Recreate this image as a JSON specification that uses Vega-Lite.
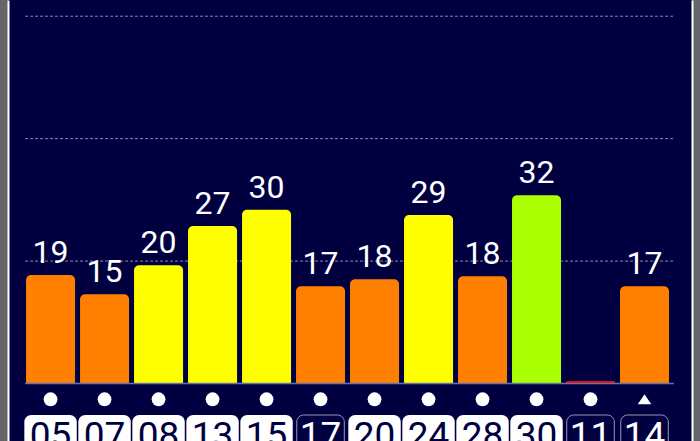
{
  "$schema": "https://vega.github.io/schema/vega-lite/v6.json",
  "width": 684,
  "height": 441,
  "padding": {"left": 8, "right": 8, "top": 0, "bottom": 0},
  "autosize": {"type": "none"},
  "background": "#666666",
  "config": {
    "view": {"stroke": null, "fill": "#000040"},
    "text": {"font": "Roboto"}
  },
  "datasets": {
    "sats": [
      {"sat": "05", "snr": 18.6, "used": true, "sym": "dot"},
      {"sat": "07", "snr": 15.3, "used": true, "sym": "dot"},
      {"sat": "08", "snr": 20.3, "used": true, "sym": "dot"},
      {"sat": "13", "snr": 27.0, "used": true, "sym": "dot"},
      {"sat": "15", "snr": 29.8, "used": true, "sym": "dot"},
      {"sat": "17", "snr": 16.7, "used": false, "sym": "dot"},
      {"sat": "20", "snr": 17.9, "used": true, "sym": "dot"},
      {"sat": "24", "snr": 28.9, "used": true, "sym": "dot"},
      {"sat": "28", "snr": 18.4, "used": true, "sym": "dot"},
      {"sat": "30", "snr": 32.3, "used": true, "sym": "dot"},
      {"sat": "11", "snr": 0.45, "used": false, "sym": "dot"},
      {"sat": "14", "snr": 16.7, "used": false, "sym": "tri"}
    ],
    "grid": [
      {"g": 0, "kind": "base"},
      {"g": 21, "kind": "grid"},
      {"g": 42, "kind": "grid"},
      {"g": 63, "kind": "grid"}
    ]
  },
  "data": {"name": "sats"},
  "encoding": {
    "x": {
      "field": "sat",
      "type": "nominal",
      "sort": null,
      "axis": null,
      "scale": {
        "domain": ["05", "07", "08", "13", "15", "17", "20", "24", "28", "30", "11", "14"],
        "paddingInner": 0.0926,
        "paddingOuter": 0.38,
        "align": 0.44
      }
    }
  },
  "resolve": {"axis": {"y": "independent"}},
  "layer": [
    {
      "data": {"name": "grid"},
      "transform": [{"filter": "datum.kind == 'grid'"}],
      "mark": {"type": "rule", "color": "#8a8ab0", "strokeWidth": 1, "strokeDash": [3, 2]},
      "encoding": {
        "x": {"datum": "05", "bandPosition": -0.02},
        "x2": {"datum": "14", "bandPosition": 1.12},
        "y": {
          "field": "g",
          "type": "quantitative",
          "scale": {"domain": [-9.86, 65.78], "nice": false, "zero": false},
          "axis": {"orient": "right", "domain": true, "domainColor": "#ffffff", "domainWidth": 2, "ticks": false, "labels": false, "grid": false, "title": null}
        }
      }
    },
    {
      "mark": {"type": "bar", "cornerRadiusTopLeft": 5, "cornerRadiusTopRight": 5},
      "encoding": {
        "y": {
          "field": "snr",
          "type": "quantitative",
          "scale": {"domain": [-9.86, 65.78], "nice": false, "zero": false},
          "axis": {"orient": "left", "domain": true, "domainColor": "#ffffff", "domainWidth": 2, "ticks": false, "labels": false, "grid": false, "title": null}
        },
        "y2": {"datum": 0},
        "color": {
          "field": "snr",
          "type": "quantitative",
          "scale": {"type": "threshold", "domain": [10, 20, 30], "range": ["#ff0000", "#ff8000", "#ffff00", "#aaff00"]},
          "legend": null
        }
      }
    },
    {
      "data": {"name": "grid"},
      "transform": [{"filter": "datum.kind == 'base'"}],
      "mark": {"type": "rule", "color": "#6674a8", "strokeWidth": 1.5},
      "encoding": {
        "x": {"datum": "05", "bandPosition": -0.02},
        "x2": {"datum": "14", "bandPosition": 1.1},
        "y": {"field": "g", "type": "quantitative", "axis": null}
      }
    },
    {
      "transform": [{"filter": "datum.snr >= 1"}],
      "mark": {"type": "text", "color": "#ffffff", "fontSize": 32, "baseline": "alphabetic", "dy": -12},
      "encoding": {
        "y": {"field": "snr", "type": "quantitative", "axis": null},
        "text": {"field": "snr", "type": "quantitative", "format": ".0f"}
      }
    },
    {
      "mark": {"type": "point", "filled": true, "color": "#ffffff", "opacity": 1, "size": 190},
      "encoding": {
        "y": {"datum": -2.7, "axis": null},
        "shape": {
          "field": "sym",
          "type": "nominal",
          "scale": {"domain": ["dot", "tri"], "range": ["circle", "M0,-0.72L0.98,0.72L-0.98,0.72Z"]},
          "legend": null
        }
      }
    },
    {
      "transform": [{"filter": "datum.used"}],
      "mark": {"type": "rect", "fill": "#ffffff", "cornerRadius": 7, "width": {"band": 1.07}},
      "encoding": {
        "y": {"datum": -5.4, "axis": null},
        "y2": {"datum": -13}
      }
    },
    {
      "transform": [{"filter": "!datum.used"}],
      "mark": {"type": "rect", "fill": "#000040", "stroke": "#9a9ab4", "strokeWidth": 1, "cornerRadius": 7, "width": {"band": 0.97}},
      "encoding": {
        "y": {"datum": -5.4, "axis": null},
        "y2": {"datum": -13}
      }
    },
    {
      "mark": {"type": "text", "fontSize": 37, "baseline": "alphabetic"},
      "encoding": {
        "y": {"datum": -11.0, "axis": null},
        "text": {"field": "sat", "type": "nominal"},
        "color": {
          "condition": {"test": "datum.used", "value": "#000040"},
          "value": "#ffffff"
        }
      }
    }
  ]
}
